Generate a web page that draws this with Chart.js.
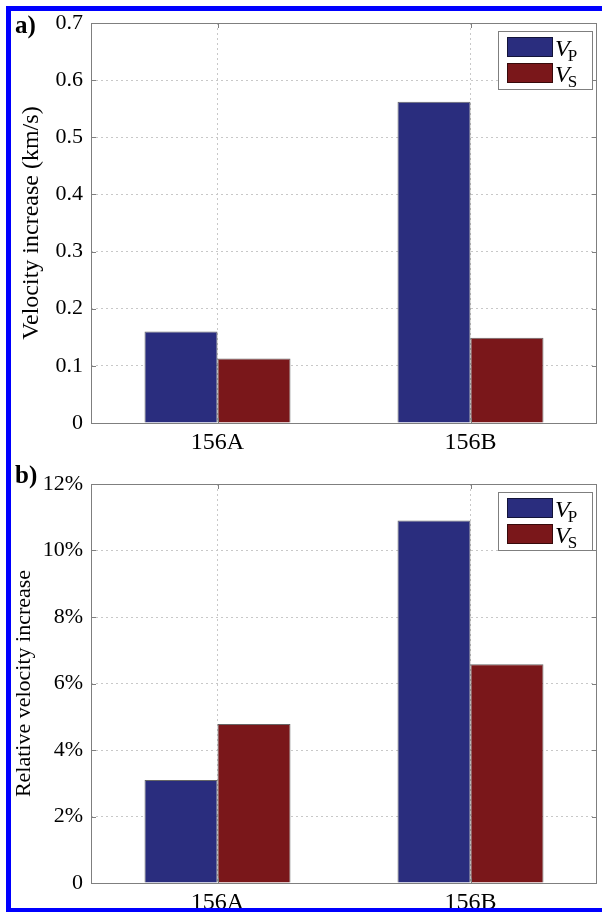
<!DOCTYPE html>
<html>
<head>
<meta charset="utf-8">
<script src="https://cdn.jsdelivr.net/npm/chart.js@4/dist/chart.umd.min.js"></script>
<style>
  html, body { margin: 0; padding: 0; background: #ffffff; }
  #wrap { position: relative; width: 602px; height: 912px; overflow: hidden; background: #fff; }
  #frame { position: absolute; left: 6px; top: 6px; width: 610px; height: 897px; border: 5px solid #0000ff; box-sizing: content-box; pointer-events: none; z-index: 5; }
  .panel { position: absolute; left: 0; width: 602px; height: 456px; }
  .tag { position: absolute; font-family: "Liberation Serif", serif; font-weight: bold; font-size: 25px; color: #000; z-index: 6; }
</style>
</head>
<body>
<div id="wrap">
  <div class="panel" style="top:0"><canvas id="c1" width="602" height="456"></canvas></div>
  <div class="panel" style="top:456px"><canvas id="c2" width="602" height="456"></canvas></div>
  <div class="tag" style="left:15px; top:11px;">a)</div>
  <div class="tag" style="left:15px; top:461px;">b)</div>
  <div id="frame"></div>
</div>
<script>
// ---- data ----
const categories = ['156A', '156B'];
const seriesNames = ['V', 'V'];
const seriesSubs = ['P', 'S'];
const vpAbs = [0.160, 0.562];   // km/s
const vsAbs = [0.113, 0.149];   // km/s
const vpRel = [3.10, 10.90];    // %
const vsRel = [4.78, 6.58];     // %
const ticksA = [0, 0.1, 0.2, 0.3, 0.4, 0.5, 0.6, 0.7];
const ticksB = [0, 2, 4, 6, 8, 10, 12];

const BLUE = '#2a2d7e';
const RED = '#7a171a';
const AXIS = '#7f7f7f';
const GRID = '#c8c8c8';
const FONT = '"Liberation Serif", "Times New Roman", serif';

const innerTicks = {
  id: 'innerTicks',
  afterDatasetsDraw(chart) {
    const {ctx, chartArea: a, scales} = chart;
    ctx.save();
    ctx.strokeStyle = AXIS;
    ctx.lineWidth = 1;
    ctx.beginPath();
    scales.y.ticks.forEach(t => {
      const y = Math.round(scales.y.getPixelForValue(t.value)) + 0.5;
      ctx.moveTo(a.left, y); ctx.lineTo(a.left + 5, y);
      ctx.moveTo(a.right, y); ctx.lineTo(a.right - 5, y);
    });
    categories.forEach((c, i) => {
      const x = Math.round(scales.x.getPixelForValue(i)) + 0.5;
      ctx.moveTo(x, a.bottom); ctx.lineTo(x, a.bottom - 5);
      ctx.moveTo(x, a.top); ctx.lineTo(x, a.top + 5);
    });
    ctx.stroke();
    ctx.strokeRect(Math.round(a.left) + 0.5, Math.round(a.top) + 0.5, Math.round(a.right - a.left) - 1, Math.round(a.bottom - a.top));
    ctx.restore();
  }
};

const boxLegend = {
  id: 'boxLegend',
  afterDraw(chart) {
    const {ctx, chartArea: a} = chart;
    const bx = a.right - 99, by = a.top + 8, bw = 94, bh = 58;
    ctx.save();
    ctx.fillStyle = '#fff';
    ctx.fillRect(bx, by, bw, bh);
    ctx.strokeStyle = AXIS;
    ctx.lineWidth = 1;
    ctx.strokeRect(bx + 0.5, by + 0.5, bw, bh);
    chart.data.datasets.forEach((ds, i) => {
      const sy = by + 6 + i * 26;
      ctx.fillStyle = ds.backgroundColor;
      ctx.fillRect(bx + 9, sy, 46, 20);
      ctx.strokeStyle = 'rgba(0,0,0,0.55)';
      ctx.strokeRect(bx + 9.5, sy + 0.5, 45, 19);
      ctx.fillStyle = '#000';
      ctx.textBaseline = 'alphabetic';
      ctx.font = 'italic 24px ' + FONT;
      ctx.fillText(seriesNames[i], bx + 57, sy + 19);
      const w = ctx.measureText(seriesNames[i]).width;
      ctx.font = '17px ' + FONT;
      ctx.fillText(seriesSubs[i], bx + 55 + w, sy + 24);
    });
    ctx.restore();
  }
};

function makeChart(id, vp, vs, ticks, max, topPad, xHeight, title, fmt, titleSize, titlePad, xPad) {
  return new Chart(document.getElementById(id), {
    type: 'bar',
    data: {
      labels: categories,
      datasets: [
        { label: 'VP', data: vp, backgroundColor: BLUE, borderColor: 'rgba(0,0,0,0.6)', borderWidth: 1 },
        { label: 'VS', data: vs, backgroundColor: RED, borderColor: 'rgba(0,0,0,0.6)', borderWidth: 1 }
      ]
    },
    options: {
      responsive: false,
      animation: false,
      devicePixelRatio: 1,
      layout: { padding: { top: topPad, right: 5, left: 0, bottom: 0 } },
      datasets: { bar: { categoryPercentage: 0.577, barPercentage: 1.0 } },
      plugins: { legend: { display: false }, tooltip: { enabled: false } },
      scales: {
        x: {
          offset: true,
          grid: { display: true, offset: false, color: GRID, drawTicks: false, tickLength: 0 },
          border: { display: false, dash: [2, 3] },
          ticks: { color: '#000', font: { family: FONT, size: 24 }, padding: xPad },
          afterFit(s) { s.height = xHeight; }
        },
        y: {
          min: 0, max: max,
          afterBuildTicks(s) { s.ticks = ticks.map(v => ({ value: v })); },
          grid: { color: GRID, drawTicks: false, tickLength: 0 },
          border: { display: false, dash: [2, 3] },
          ticks: { color: '#000', font: { family: FONT, size: 22 }, padding: 8, callback: fmt },
          title: { display: true, text: title, color: '#000', font: { family: FONT, size: titleSize }, padding: { top: titlePad, bottom: 0 } },
          afterFit(s) { s.width = 91; }
        }
      }
    },
    plugins: [innerTicks, boxLegend]
  });
}

const c1 = makeChart('c1', vpAbs, vsAbs, ticksA, 0.7, 23, 33, 'Velocity increase (km/s)',
  v => v === 0 ? '0' : Number(v).toFixed(1), 24, 17, 5);
const c2 = makeChart('c2', vpRel, vsRel, ticksB, 12, 28, 29, 'Relative velocity increase',
  v => v === 0 ? '0' : v + '%', 22, 11, 5);
</script>
</body>
</html>
